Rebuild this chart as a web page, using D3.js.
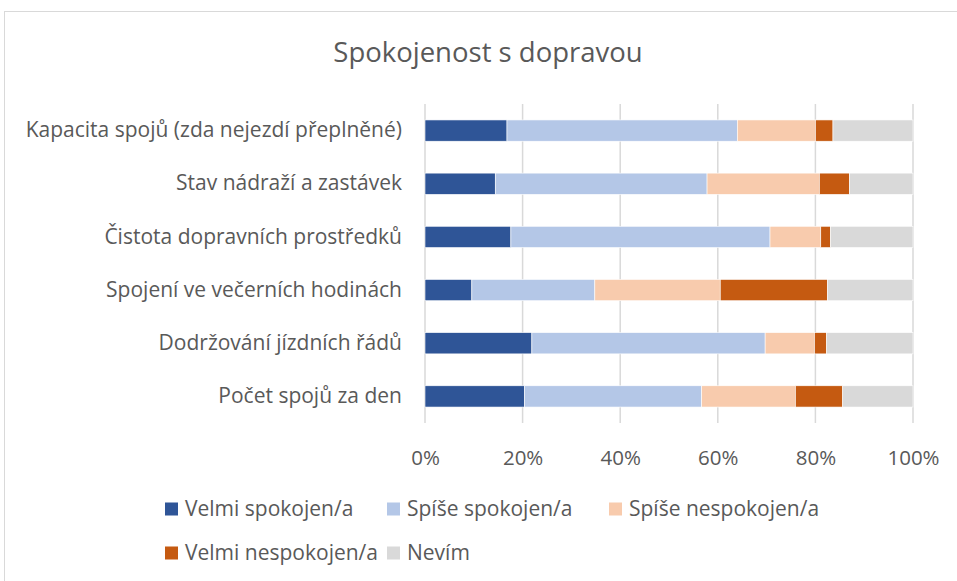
<!DOCTYPE html>
<html>
<head>
<meta charset="utf-8">
<script src="https://cdn.jsdelivr.net/npm/d3@7"></script>
<style>
  body { margin: 0; background: #fff; }
  text { font-family: "Open Sans", "Liberation Sans", sans-serif; fill: #595959; }
</style>
</head>
<body>
<svg width="957" height="581"></svg>
<script>
const categories = [
  "Kapacita spojů (zda nejezdí přeplněné)",
  "Stav nádraží a zastávek",
  "Čistota dopravních prostředků",
  "Spojení ve večerních hodinách",
  "Dodržování jízdních řádů",
  "Počet spojů za den"
];
const seriesNames = ["Velmi spokojen/a", "Spíše spokojen/a", "Spíše nespokojen/a", "Velmi nespokojen/a", "Nevím"];
const velmiSpokojen = [16.8, 14.4, 17.6, 9.6, 21.9, 20.4];
const spiseSpokojen = [47.2, 43.4, 53.1, 25.2, 47.8, 36.3];
const spiseNespokojen = [16.0, 23.0, 10.4, 25.7, 10.1, 19.2];
const velmiNespokojen = [3.6, 6.2, 2.0, 22.0, 2.5, 9.7];
const nevim = [16.4, 13.0, 16.9, 17.5, 17.7, 14.4];
const tickValues = [0, 0.2, 0.4, 0.6, 0.8, 1];
const colors = ["#2F5597", "#B4C7E7", "#F8CBAD", "#C55A11", "#D9D9D9"];

const svg = d3.select("svg");
const margin = { top: 104, left: 425, right: 44, bottom: 158 };
const width = 957 - margin.left - margin.right;
const height = 581 - margin.top - margin.bottom;

// chart frame
svg.append("rect")
  .attr("x", 4.5).attr("y", 11.5)
  .attr("width", 1000).attr("height", 1000)
  .attr("fill", "none").attr("stroke", "#d9d9d9");

svg.append("text")
  .attr("x", 488).attr("y", 62)
  .attr("text-anchor", "middle")
  .attr("font-size", "27.5px")
  .text("Spokojenost s dopravou");

const rows = categories.map((c, i) => {
  const vals = [velmiSpokojen[i], spiseSpokojen[i], spiseNespokojen[i], velmiNespokojen[i], nevim[i]];
  const total = d3.sum(vals);
  const row = { category: c };
  seriesNames.forEach((s, j) => row[s] = vals[j] / total);
  return row;
});

const stacked = d3.stack().keys(seriesNames)(rows);

const x = d3.scaleLinear().domain([0, 1]).range([0, width]);
const y = d3.scaleBand().domain(categories).range([0, height])
  .paddingInner(0.6).paddingOuter(0.3);

const g = svg.append("g").attr("transform", `translate(${margin.left},${margin.top})`);

g.append("g")
  .selectAll("line")
  .data(tickValues)
  .enter()
  .append("line")
  .attr("x1", (d) => x(d)).attr("x2", (d) => x(d))
  .attr("y1", 0).attr("y2", height)
  .attr("stroke", "#d9d9d9").attr("stroke-width", 1.5);

g.selectAll(".series")
  .data(stacked)
  .enter()
  .append("g")
  .attr("class", "series")
  .attr("fill", (d, i) => colors[i])
  .selectAll("rect")
  .data((d) => d)
  .enter()
  .append("rect")
  .attr("x", (d) => x(d[0]))
  .attr("width", (d) => x(d[1]) - x(d[0]))
  .attr("y", (d) => y(d.data.category))
  .attr("height", y.bandwidth())
  .attr("stroke", "#fff").attr("stroke-width", 0.6);

const xAxis = d3.axisBottom(x).tickValues(tickValues)
  .tickFormat(d3.format(".0%")).tickSize(0).tickPadding(27);
const gx = g.append("g").attr("transform", `translate(0,${height})`).call(xAxis);
gx.select(".domain").remove();
gx.selectAll("text").attr("font-size", "20.5px").style("fill", "#595959");

const yAxis = d3.axisLeft(y).tickSize(0).tickPadding(23);
const gy = g.append("g").call(yAxis);
gy.select(".domain").remove();
gy.selectAll("text").attr("font-size", "21px").style("fill", "#595959");
svg.selectAll("g[font-family]").attr("font-family", null);

// legend
const legendPos = [[165, 509], [387, 509], [609, 509], [165, 553], [387, 553]];
const legend = svg.append("g")
  .selectAll("g")
  .data(seriesNames)
  .enter()
  .append("g")
  .attr("transform", (d, i) => `translate(${legendPos[i][0]},${legendPos[i][1]})`);
legend.append("rect")
  .attr("x", 0).attr("y", -6.5)
  .attr("width", 13).attr("height", 13)
  .attr("fill", (d, i) => colors[i]);
legend.append("text")
  .attr("x", 20).attr("y", 0).attr("dy", "0.35em")
  .attr("font-size", "21px")
  .text((d) => d);
</script>
</body>
</html>
